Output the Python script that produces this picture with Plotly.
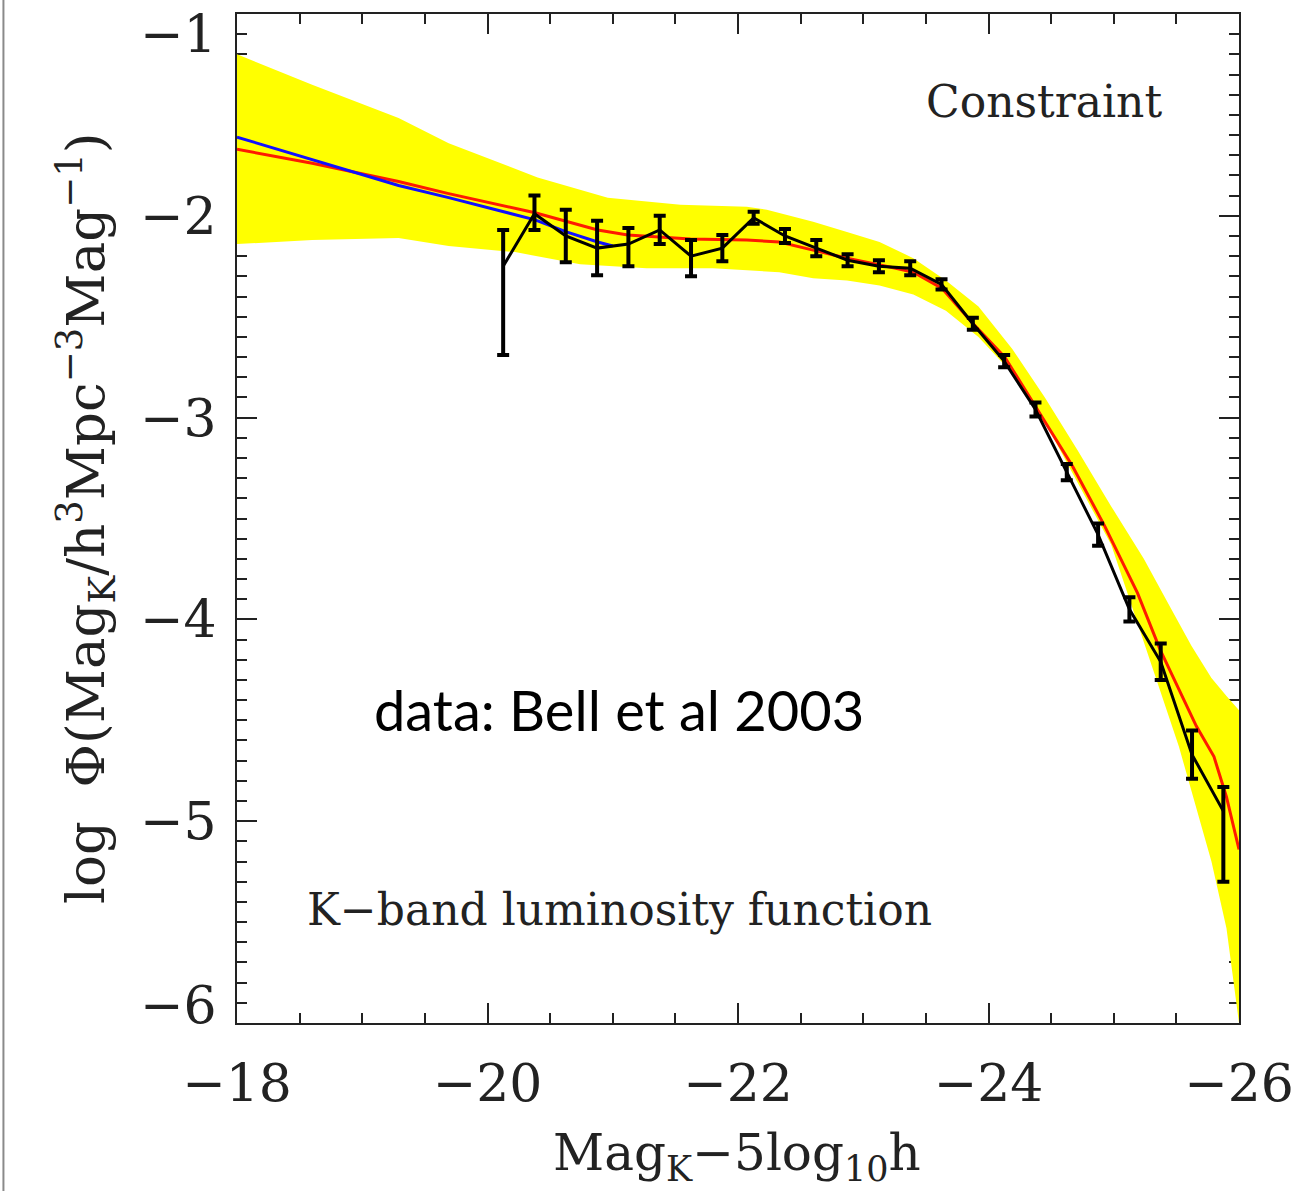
import plotly.graph_objects as go

# ---------------- data ----------------
data_mag = [-20.125, -20.375, -20.625, -20.875, -21.125, -21.375, -21.625, -21.875,
            -22.125, -22.375, -22.625, -22.875, -23.125, -23.375, -23.625, -23.875,
            -24.125, -24.375, -24.625, -24.875, -25.125, -25.375, -25.625, -25.875]
data_logphi = [-2.25, -1.99, -2.10, -2.16, -2.14, -2.07, -2.20, -2.16,
               -2.01, -2.10, -2.16, -2.22, -2.25, -2.26, -2.34, -2.535,
               -2.72, -2.96, -3.27, -3.58, -3.95, -4.21, -4.67, -4.95]
err_up = [0.18, 0.09, 0.13, 0.135, 0.08, 0.07, 0.08, 0.065,
          0.03, 0.035, 0.04, 0.03, 0.03, 0.035, 0.025, 0.03,
          0.03, 0.035, 0.04, 0.055, 0.06, 0.09, 0.12, 0.12]
err_down = [0.44, 0.08, 0.13, 0.135, 0.11, 0.07, 0.10, 0.065,
            0.03, 0.035, 0.04, 0.03, 0.03, 0.035, 0.025, 0.03,
            0.03, 0.035, 0.04, 0.055, 0.06, 0.09, 0.12, 0.35]

red_mag = [-18.0, -18.6, -19.29, -19.69, -20.38, -20.88, -21.12, -21.62, -22.07, -22.33,
           -22.60, -22.87, -23.26, -23.40, -23.63, -23.87, -24.13, -24.38, -24.67,
           -24.93, -25.19, -25.37, -25.66, -25.80, -25.90, -26.0]
red_logphi = [-1.67, -1.74, -1.83, -1.89, -1.985, -2.07, -2.095, -2.115, -2.12, -2.13,
              -2.17, -2.21, -2.26, -2.28, -2.36, -2.53, -2.70, -2.95, -3.24,
              -3.54, -3.87, -4.15, -4.53, -4.68, -4.88, -5.14]

blue_mag = [-18.0, -19.29, -19.69, -20.38, -20.63, -20.88, -21.0]
blue_logphi = [-1.61, -1.85, -1.91, -2.02, -2.08, -2.13, -2.15]

band_up_mag = [-18.0, -18.6, -19.29, -19.69, -20.40, -20.96, -21.54, -22.07, -22.23, -22.60,
               -22.87, -23.13, -23.40, -23.66, -23.92, -24.19, -24.45, -24.71, -24.98,
               -25.24, -25.46, -25.62, -25.78, -25.90, -26.0]
band_up = [-1.20, -1.35, -1.515, -1.64, -1.81, -1.91, -1.945, -1.955, -1.97, -2.03,
           -2.08, -2.13, -2.21, -2.32, -2.45, -2.66, -2.90, -3.16, -3.44,
           -3.70, -3.95, -4.13, -4.29, -4.38, -4.45]
band_lo_mag = [-18.0, -18.6, -19.29, -19.69, -20.22, -20.74, -21.27, -21.80, -22.33, -22.60,
               -22.87, -23.13, -23.40, -23.66, -23.92, -24.19, -24.45, -24.71, -24.98,
               -25.25, -25.52, -25.78, -25.90, -26.0]
band_lo = [-2.14, -2.12, -2.11, -2.15, -2.18, -2.24, -2.26, -2.26, -2.28, -2.31,
           -2.32, -2.345, -2.39, -2.47, -2.60, -2.78, -3.02, -3.32, -3.63,
           -4.13, -4.63, -5.20, -5.53, -6.0]

x_ticks = [-18, -20, -22, -24, -26]
x_ticklabels = ["−18", "−20", "−22", "−24", "−26"]
y_ticks = [-1, -2, -3, -4, -5, -6]
y_ticklabels = ["−1", "−2", "−3", "−4", "−5", "−6"]

SERIF = "DejaVu Serif"
INK = "#222222"

fig = go.Figure()

# yellow constraint band
fig.add_trace(go.Scatter(
    x=band_up_mag + band_lo_mag[::-1],
    y=band_up + band_lo[::-1],
    fill="toself", fillcolor="#ffff00", mode="none", hoverinfo="skip",
    showlegend=False))

# red model
fig.add_trace(go.Scatter(x=red_mag, y=red_logphi, mode="lines",
                         line=dict(color="#ff1a00", width=3), showlegend=False))
# blue model
fig.add_trace(go.Scatter(x=blue_mag, y=blue_logphi, mode="lines",
                         line=dict(color="#1010ff", width=3), showlegend=False))
# data with error bars
fig.add_trace(go.Scatter(
    x=data_mag, y=data_logphi, mode="lines",
    line=dict(color="black", width=3),
    error_y=dict(type="data", symmetric=False, array=err_up, arrayminus=err_down,
                 color="black", thickness=4, width=6),
    showlegend=False))

axis_common = dict(
    showline=True, linecolor=INK, linewidth=2, mirror="allticks",
    ticks="inside", tickcolor=INK, tickwidth=2, showgrid=False,
    zeroline=False, layer="below traces",
)

fig.update_xaxes(
    range=[-18, -26], tickvals=x_ticks, ticktext=x_ticklabels, ticklen=20,
    tickfont=dict(family=SERIF, size=52, color=INK),
    ticklabelstandoff=14,
    minor=dict(dtick=0.5, tick0=-18, ticks="inside", ticklen=10, tickwidth=2,
               tickcolor=INK),
    **axis_common)
fig.update_yaxes(
    range=[-6, -1], tickvals=y_ticks, ticklen=20, showticklabels=False,
    minor=dict(dtick=0.1, tick0=-6, ticks="inside", ticklen=10, tickwidth=2,
               tickcolor=INK),
    **axis_common)

annotations = []
# y tick labels (end labels shifted inward as in the original)
shifts = {-1: -20, -6: 18}
for v, t in zip(y_ticks, y_ticklabels):
    annotations.append(dict(x=0, xref="paper", y=v, yref="y", text=t, showarrow=False,
                            xanchor="right", yanchor="middle", xshift=-18,
                            yshift=shifts.get(v, 0),
                            font=dict(family=SERIF, size=52, color=INK)))
# axis titles
annotations.append(dict(x=-0.1508, xref="paper", y=0.5005, yref="paper",
                        text="log  Φ(Mag<sub>K</sub>/h<sup>3</sup>Mpc<sup>−3</sup>Mag<sup>−1</sup>)",
                        textangle=-90, showarrow=False, xanchor="center", yanchor="middle",
                        font=dict(family=SERIF, size=53, color=INK)))
annotations.append(dict(x=0.499, xref="paper", y=-0.1328, yref="paper",
                        text="Mag<sub>K</sub>−5log<sub>10</sub>h",
                        showarrow=False, xanchor="center", yanchor="middle",
                        font=dict(family=SERIF, size=50, color=INK)))
# in-plot labels
annotations.append(dict(x=-24.44, y=-1.436, xref="x", yref="y", text="Constraint",
                        showarrow=False, xanchor="center", yanchor="middle",
                        font=dict(family=SERIF, size=44, color=INK)))
annotations.append(dict(x=-21.05, y=-5.436, xref="x", yref="y",
                        text="K−band luminosity function",
                        showarrow=False, xanchor="center", yanchor="middle",
                        font=dict(family=SERIF, size=44, color=INK)))
annotations.append(dict(x=-21.05, y=-4.445, xref="x", yref="y",
                        text="data: Bell et al 2003",
                        showarrow=False, xanchor="center", yanchor="middle",
                        font=dict(family="Lato", size=56, color="black")))

fig.update_layout(
    width=1306, height=1191,
    margin=dict(l=237, r=61, t=14, b=168),
    paper_bgcolor="white", plot_bgcolor="white",
    annotations=annotations,
    shapes=[dict(type="line", xref="paper", yref="paper",
                 x0=-0.2331, x1=-0.2331, y0=-0.1665, y1=1.0139,
                 line=dict(color="#8a8a8a", width=2))],
)

fig.write_html("out.html")
